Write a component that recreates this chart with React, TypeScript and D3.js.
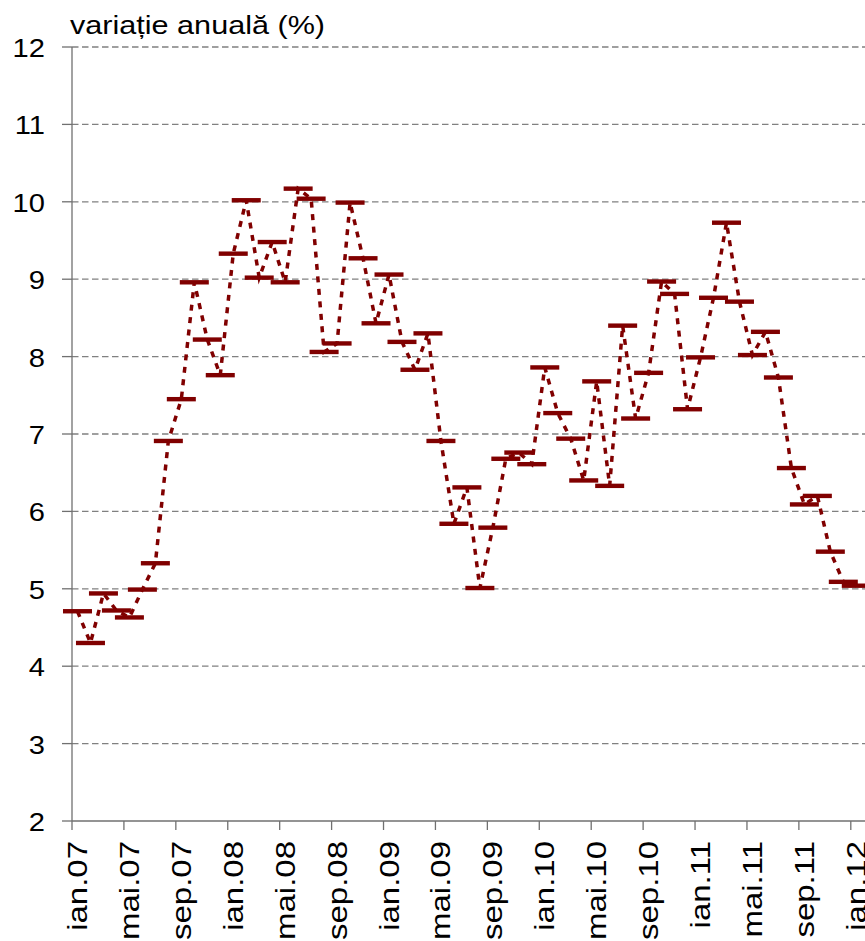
import React from "react";
import * as d3 from "d3";

const MONTHS = ["ian", "feb", "mar", "apr", "mai", "iun", "iul", "aug", "sep", "oct", "noi", "dec"];
const YEARS = ["07", "08", "09", "10", "11", "12"];
const categories: string[] = YEARS.flatMap((y) => MONTHS.map((m) => `${m}.${y}`)).slice(0, 61);

const values: number[] = [
  4.71, 4.3, 4.94, 4.72, 4.63, 4.99, 5.33, 6.91, 7.45, 8.96, 8.22, 7.76,
  9.33, 10.02, 9.02, 9.48, 8.96, 10.17, 10.04, 8.06, 8.17, 9.99, 9.27, 8.43,
  9.06, 8.19, 7.83, 8.3, 6.91, 5.84, 6.31, 5.01, 5.79, 6.68, 6.76, 6.61,
  7.86, 7.27, 6.94, 6.4, 7.68, 6.33, 8.4, 7.2, 7.79, 8.97, 8.81, 7.32,
  7.99, 8.76, 9.73, 8.71, 8.02, 8.32, 7.73, 6.56, 6.09, 6.2, 5.48, 5.09,
  5.04,
];

const tickLabels = [
  "ian.07", "mai.07", "sep.07", "ian.08", "mai.08", "sep.08", "ian.09", "mai.09",
  "sep.09", "ian.10", "mai.10", "sep.10", "ian.11", "mai.11", "sep.11", "ian.12",
];
const yTicks = [2, 3, 4, 5, 6, 7, 8, 9, 10, 11, 12];
const title = "variație anuală (%)";

const W = 865;
const H = 941;
const FONT = "'Liberation Sans', Arial, sans-serif";
const RED = "#800000";

export default function App() {
  const x = d3.scaleBand<string>().domain(categories).range([72, 72 + 61 * 12.98]).padding(0);
  const y = d3.scaleLinear().domain([2, 12]).range([821, 47]);
  const bw = x.bandwidth();
  const cx = (c: string) => (x(c) as number) + bw / 2 - 1;

  const line = d3
    .line<number>()
    .x((_, i) => cx(categories[i]))
    .y((d) => y(d));

  return (
    <svg
      width={W}
      height={H}
      style={{ position: "absolute", left: 0, top: 0, background: "#fff", overflow: "hidden" }}
    >
      <rect x={0} y={0} width={W} height={H} fill="#fff" />
      {yTicks
        .filter((t) => t !== 2)
        .map((t) => (
          <line
            key={"g" + t}
            x1={72}
            x2={W}
            y1={y(t)}
            y2={y(t)}
            stroke="#808080"
            strokeWidth={1.3}
            strokeDasharray="6.5,3.5"
          />
        ))}
      <line x1={72} x2={72} y1={y(12)} y2={y(2)} stroke="#707070" strokeWidth={1.3} />
      {yTicks.map((t) => (
        <line key={"yt" + t} x1={62} x2={72} y1={y(t)} y2={y(t)} stroke="#707070" strokeWidth={1.3} />
      ))}
      {yTicks.map((t) => (
        <text
          key={"yl" + t}
          transform={`translate(45,${y(t) + 1}) scale(1.12,1)`}
          textAnchor="end"
          dominantBaseline="central"
          fontFamily={FONT}
          fontSize={26}
          fill="#000"
        >
          {t}
        </text>
      ))}
      <line x1={72} x2={W} y1={y(2)} y2={y(2)} stroke="#707070" strokeWidth={1.3} />
      {tickLabels.map((l) => {
        const tx = x(l) as number;
        return (
          <g key={"xt" + l}>
            <line x1={tx} x2={tx} y1={y(2)} y2={y(2) + 9} stroke="#707070" strokeWidth={1.3} />
            <text
              transform={`translate(${tx + 15},841) rotate(-90) scale(1.2,1)`}
              textAnchor="end"
              fontFamily={FONT}
              fontSize={27.5}
              fill="#000"
            >
              {l}
            </text>
          </g>
        );
      })}
      <text
        transform="translate(70,33.5) scale(1.2,1)"
        fontFamily={FONT}
        fontSize={25.5}
        fill="#000"
      >
        {title}
      </text>
      <path
        d={line(values) || ""}
        fill="none"
        stroke={RED}
        strokeWidth={3.5}
        strokeDasharray="6,6.5"
      />
      {values.map((v, i) => (
        <rect
          key={"m" + i}
          x={cx(categories[i]) - 14.5}
          y={y(v) - 2.2}
          width={29}
          height={4.4}
          fill={RED}
        />
      ))}
    </svg>
  );
}
